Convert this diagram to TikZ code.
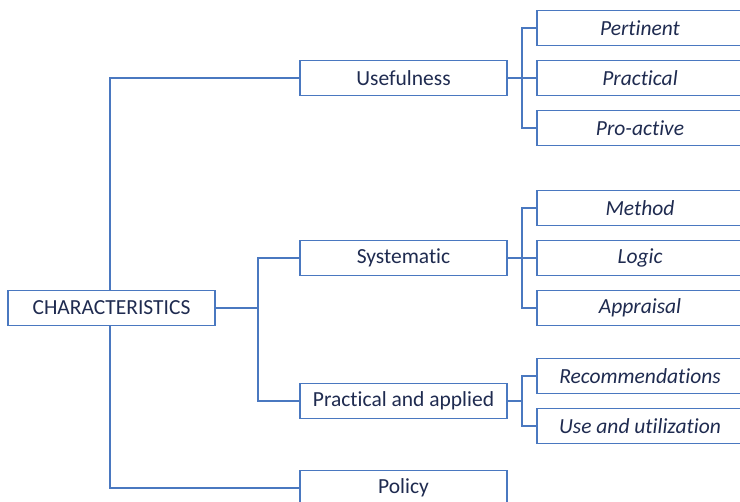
\documentclass[tikz,border=0pt]{standalone}
\usepackage{fontspec}
\setmainfont[Ligatures=NoCommon]{Carlito}
\definecolor{edge}{HTML}{4A78C0}
\definecolor{ink}{HTML}{1F2B50}
\begin{document}
\begin{tikzpicture}[x=1pt,y=-1pt,
  box/.style={draw=edge,line width=1.8pt,fill=white,text=ink,minimum height=35pt,inner sep=0pt,font=\fontsize{21.5}{24}\selectfont},
  mid/.style={box,minimum width=207pt},
  leaf/.style={box,minimum width=206pt,font=\fontsize{21.5}{24}\selectfont\itshape},
  link/.style={draw=edge,line width=1.8pt}]
\useasboundingbox (0,0) rectangle (740,502);
\clip (0,0) rectangle (740,502);
% root
\node[box,minimum width=207pt] (root) at (111.5,308) {CHARACTERISTICS};
% second level
\node[mid] (use) at (403.5,78) {Usefulness};
\node[mid] (sys) at (403.5,258) {Systematic};
\node[mid] (prac) at (403.5,401) {Practical and applied};
\node[mid] (pol) at (403.5,488) {Policy};
% leaves
\node[leaf] (l1) at (640,28) {Pertinent};
\node[leaf] (l2) at (640,78) {Practical};
\node[leaf] (l3) at (640,128) {Pro-active};
\node[leaf] (l4) at (640,208) {Method};
\node[leaf] (l5) at (640,258) {Logic};
\node[leaf] (l6) at (640,308) {Appraisal};
\node[leaf] (l7) at (640,376) {Recommendations};
\node[leaf] (l8) at (640,426) {Use and utilization};
% trunk from the root
\draw[link] (root.north -| 110,0) |- (use.west);
\draw[link] (root.south -| 110,0) |- (pol.west);
\coordinate (j1) at (258,308);
\draw[link] (root.east) -- (j1);
\draw[link] (j1) |- (sys.west);
\draw[link] (j1) |- (prac.west);
% usefulness branch
\coordinate (j2) at (522,78);
\draw[link] (use.east) -- (l2.west);
\draw[link] (j2) |- (l1.west);
\draw[link] (j2) |- (l3.west);
% systematic branch
\coordinate (j3) at (522,258);
\draw[link] (sys.east) -- (l5.west);
\draw[link] (j3) |- (l4.west);
\draw[link] (j3) |- (l6.west);
% practical branch
\coordinate (j4) at (522,401);
\draw[link] (prac.east) -- (j4);
\draw[link] (j4) |- (l7.west);
\draw[link] (j4) |- (l8.west);
\end{tikzpicture}
\end{document}
